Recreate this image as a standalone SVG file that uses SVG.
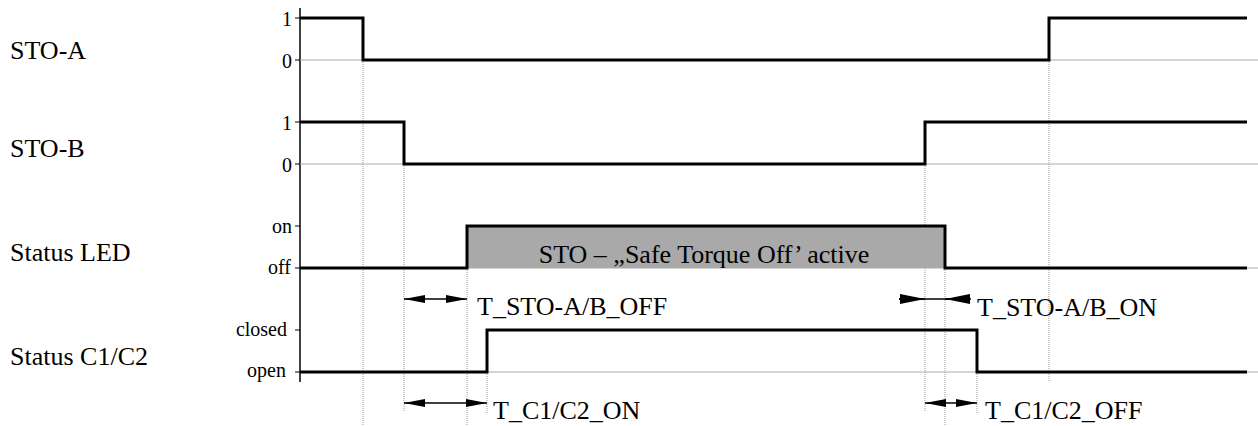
<svg xmlns="http://www.w3.org/2000/svg" width="1258" height="426" viewBox="0 0 1258 426">
<style>
.lbl{font-family:"Liberation Serif","Times New Roman",serif;font-size:26px;fill:#000}
.lvl{font-family:"Liberation Serif","Times New Roman",serif;font-size:20px;fill:#000;text-anchor:end}
.sig{fill:none;stroke:#000;stroke-width:3;stroke-linejoin:miter}
.base{stroke:#aaa;stroke-width:1}
.tick{stroke:#000;stroke-width:1}
.axis{stroke:#000;stroke-width:1.5}
.guide{stroke:#999;stroke-width:1;stroke-dasharray:1 1}
.dim{stroke:#000;stroke-width:1.5;fill:none}
</style>
<defs>
<marker id="ah" markerUnits="userSpaceOnUse" markerWidth="22" markerHeight="8" refX="21" refY="4" orient="auto-start-reverse"><path d="M0,0 L21,4 L0,8 z" fill="#000"/></marker>
<marker id="ahL" markerUnits="userSpaceOnUse" markerWidth="26" markerHeight="10" refX="25" refY="5" orient="auto"><path d="M0,0 L25,5 L0,10 z" fill="#000"/></marker>
</defs>
<rect width="1258" height="426" fill="#fff"/>

<g id="guides">
<line class="guide" x1="363" y1="60" x2="363" y2="426"/>
<line class="guide" x1="404" y1="164" x2="404" y2="412"/>
<line class="guide" x1="467" y1="268" x2="467" y2="426"/>
<line class="guide" x1="487" y1="372" x2="487" y2="413"/>
<line class="guide" x1="925" y1="164" x2="925" y2="412"/>
<line class="guide" x1="945" y1="268" x2="945" y2="426"/>
<line class="guide" x1="977" y1="372" x2="977" y2="413"/>
<line class="guide" x1="1049" y1="60" x2="1049" y2="382"/>
</g>

<g id="axis">
<line class="axis" x1="300" y1="8" x2="300" y2="382"/>
</g>

<g id="sto-a">
<text class="lbl" x="10" y="59">STO-A</text>
<line class="tick" x1="295" y1="18" x2="300" y2="18"/>
<line class="tick" x1="295" y1="60" x2="300" y2="60"/>
<text class="lvl" x="292" y="26">1</text>
<text class="lvl" x="292" y="68">0</text>
<line class="base" x1="300" y1="60" x2="1258" y2="60"/>
<path class="sig" d="M300,18 H363 V60 H1049 V18 H1247"/>
</g>

<g id="sto-b">
<text class="lbl" x="10" y="157">STO-B</text>
<line class="tick" x1="295" y1="122" x2="300" y2="122"/>
<line class="tick" x1="295" y1="164" x2="300" y2="164"/>
<text class="lvl" x="292" y="130">1</text>
<text class="lvl" x="292" y="172">0</text>
<line class="base" x1="300" y1="164" x2="1258" y2="164"/>
<path class="sig" d="M300,122 H404 V164 H925 V122 H1247"/>
</g>

<g id="status-led">
<text class="lbl" x="10" y="261">Status LED</text>
<line class="tick" x1="295" y1="226" x2="300" y2="226"/>
<line class="tick" x1="295" y1="268" x2="300" y2="268"/>
<text class="lvl" x="292" y="233">on</text>
<text class="lvl" x="291" y="274">off</text>
<rect x="467" y="226" width="478" height="42" fill="#a9a9a9"/>
<line class="base" x1="300" y1="268" x2="1258" y2="268"/>
<path class="sig" d="M300,268 H467 V226 H945 V268 H1247"/>
<text class="lbl" x="704" y="263" text-anchor="middle">STO – „Safe Torque Off’ active</text>
</g>

<g id="status-c1c2">
<text class="lbl" x="10" y="365">Status C1/C2</text>
<line class="tick" x1="295" y1="330" x2="300" y2="330"/>
<line class="tick" x1="295" y1="372" x2="300" y2="372"/>
<text class="lvl" x="287" y="336">closed</text>
<text class="lvl" x="286" y="377">open</text>
<line class="base" x1="300" y1="372" x2="1258" y2="372"/>
<path class="sig" d="M300,372 H487 V330 H977 V372 H1247"/>
</g>

<g id="connectors">
<line class="dim" x1="404" y1="299" x2="467" y2="299" marker-start="url(#ah)" marker-end="url(#ah)"/>
<line class="dim" x1="404" y1="403" x2="487" y2="403" marker-start="url(#ah)" marker-end="url(#ah)"/>
<line class="dim" x1="899" y1="299" x2="966" y2="299"/>
<line class="dim" x1="899" y1="299" x2="925" y2="299" marker-end="url(#ahL)"/>
<line class="dim" x1="971" y1="299" x2="945" y2="299" marker-end="url(#ahL)"/>
<line class="dim" x1="925" y1="403" x2="977" y2="403" marker-start="url(#ah)" marker-end="url(#ah)"/>
</g>

<g id="dimension-labels">
<text class="lbl" x="477" y="315">T_STO-A/B_OFF</text>
<text class="lbl" x="493" y="419">T_C1/C2_ON</text>
<text class="lbl" x="977" y="316">T_STO-A/B_ON</text>
<text class="lbl" x="985" y="419">T_C1/C2_OFF</text>
</g>
</svg>
